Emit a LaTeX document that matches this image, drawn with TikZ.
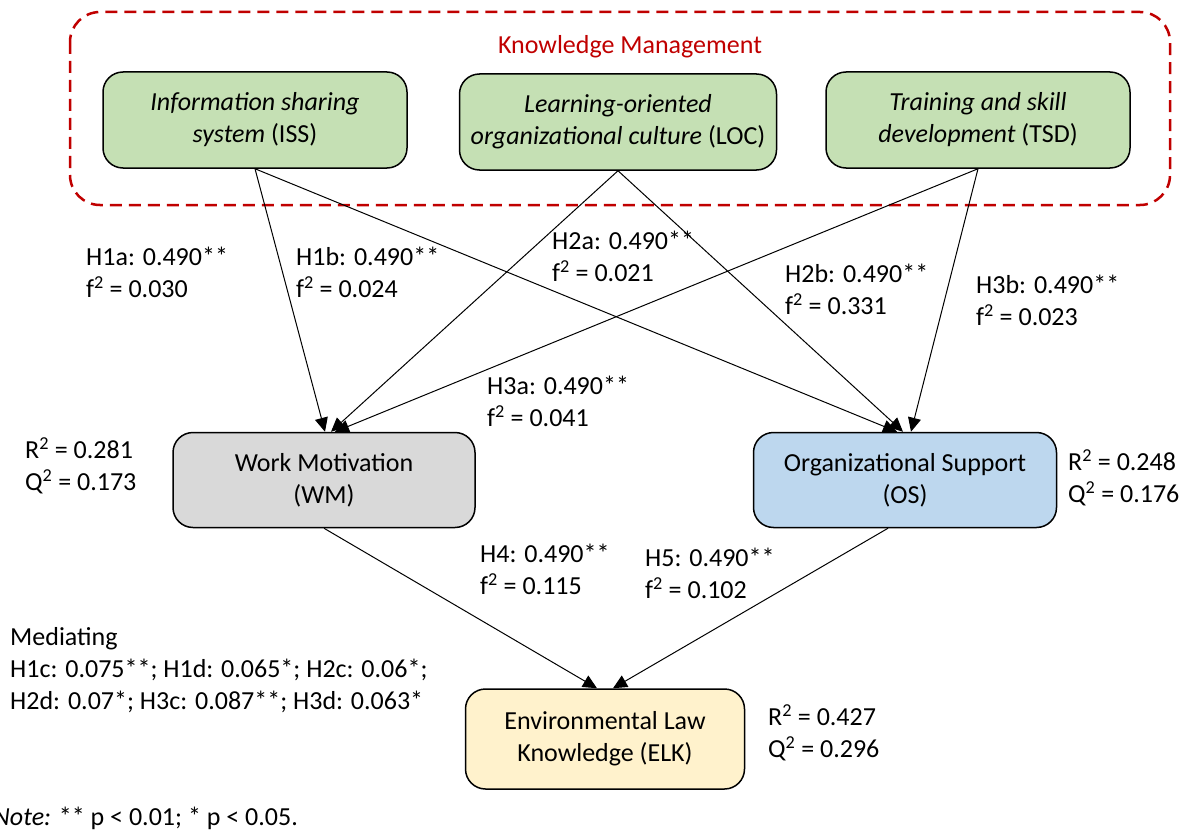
\documentclass[tikz,border=0pt]{standalone}
\usepackage{fontspec}
\setmainfont{Carlito}
\usepackage{tikz}
\usetikzlibrary{arrows.meta,positioning}

\definecolor{kmgreen}{HTML}{C5E0B4}
\definecolor{wmgray}{HTML}{D9D9D9}
\definecolor{osblue}{HTML}{BDD7EE}
\definecolor{elkyellow}{HTML}{FFF2CC}
\definecolor{kmred}{HTML}{C00000}

\begin{document}
\begin{tikzpicture}[
  x=1pt, y=-1pt,
  font=\fontsize{26}{32}\selectfont,
  box/.style={rectangle, draw, line width=1.5pt, rounded corners=20pt, align=center, minimum width=304pt, minimum height=96pt, inner sep=2pt},
  lbl/.style={anchor=west, align=left, inner sep=0pt},
  arrow/.style={-{Triangle[length=14pt, width=13pt]}, line width=1pt}
]
\useasboundingbox (0,0) rectangle (1186,832);
% Knowledge management frame
\draw[kmred, line width=2.5pt, dash pattern=on 12pt off 7pt, rounded corners=30pt] (70,12) rectangle (1170,205);
\node[kmred, inner sep=0pt] (km) at (630,47) {Knowledge Management};
% First row: ISS, LOC, TSD
\node[box, fill=kmgreen] (iss) at (255,120) {\textit{Information sharing}\\\textit{system} (ISS)};
\node[box, fill=kmgreen, minimum width=317pt, right=51pt of iss, yshift=-2pt] (loc) {\textit{Learning-oriented}\\\textit{organizational culture} (LOC)};
\node[box, fill=kmgreen, right=48pt of loc, yshift=2pt] (tsd) {\textit{Training and skill}\\\textit{development} (TSD)};
% Second row: mediators
\node[box, fill=wmgray, minimum width=302pt, minimum height=95pt] (wm) at (324,480) {Work Motivation\\(WM)};
\node[box, fill=osblue, minimum width=303pt, minimum height=95pt, right=277pt of wm] (os) {Organizational Support\\(OS)};
% Third row: outcome
\node[box, fill=elkyellow, minimum width=279pt, minimum height=100pt] (elk) at (605,739) {Environmental Law\\Knowledge (ELK)};
% Paths
\draw[arrow] (iss.south) -- ([xshift=1pt]wm.north);
\draw[arrow] (iss.south) -- ([xshift=-8pt]os.north);
\draw[arrow] (loc.south) -- ([xshift=7pt]wm.north);
\draw[arrow] (loc.south) -- ([xshift=-2pt]os.north);
\draw[arrow] (tsd.south) -- ([xshift=11pt]wm.north);
\draw[arrow] (tsd.south) -- ([xshift=6pt]os.north);
\draw[arrow] (wm.south) -- ([xshift=-8pt]elk.north);
\draw[arrow] ([xshift=-17pt]os.south) -- ([xshift=8pt]elk.north);
% Path coefficients
\node[lbl] (h1a) at (86,272) {H1a: 0.490**\\f\textsuperscript{2} = 0.030};
\node[lbl] (h1b) at (296,272) {H1b: 0.490**\\f\textsuperscript{2} = 0.024};
\node[lbl] (h2a) at (552,256) {H2a: 0.490**\\f\textsuperscript{2} = 0.021};
\node[lbl] (h2b) at (785,289) {H2b: 0.490**\\f\textsuperscript{2} = 0.331};
\node[lbl] (h3b) at (976,300) {H3b: 0.490**\\f\textsuperscript{2} = 0.023};
\node[lbl] (h3a) at (487,401) {H3a: 0.490**\\f\textsuperscript{2} = 0.041};
\node[lbl] (h4) at (480,569) {H4: 0.490**\\f\textsuperscript{2} = 0.115};
\node[lbl] (h5) at (645,573) {H5: 0.490**\\f\textsuperscript{2} = 0.102};
% Explained variance
\node[lbl] (rwm) at (25,466) {R\textsuperscript{2} = 0.281\\Q\textsuperscript{2} = 0.173};
\node[lbl] (ros) at (1068,478) {R\textsuperscript{2} = 0.248\\Q\textsuperscript{2} = 0.176};
\node[lbl] (relk) at (768,733) {R\textsuperscript{2} = 0.427\\Q\textsuperscript{2} = 0.296};
% Mediation and note
\node[lbl] (med) at (10,670) {Mediating\\H1c: 0.075**; H1d: 0.065*; H2c: 0.06*;\\H2d: 0.07*; H3c: 0.087**; H3d: 0.063*};
\node[lbl] (note) at (-7,818) {\textit{Note:} ** p < 0.01; * p < 0.05.};
\end{tikzpicture}
\end{document}
